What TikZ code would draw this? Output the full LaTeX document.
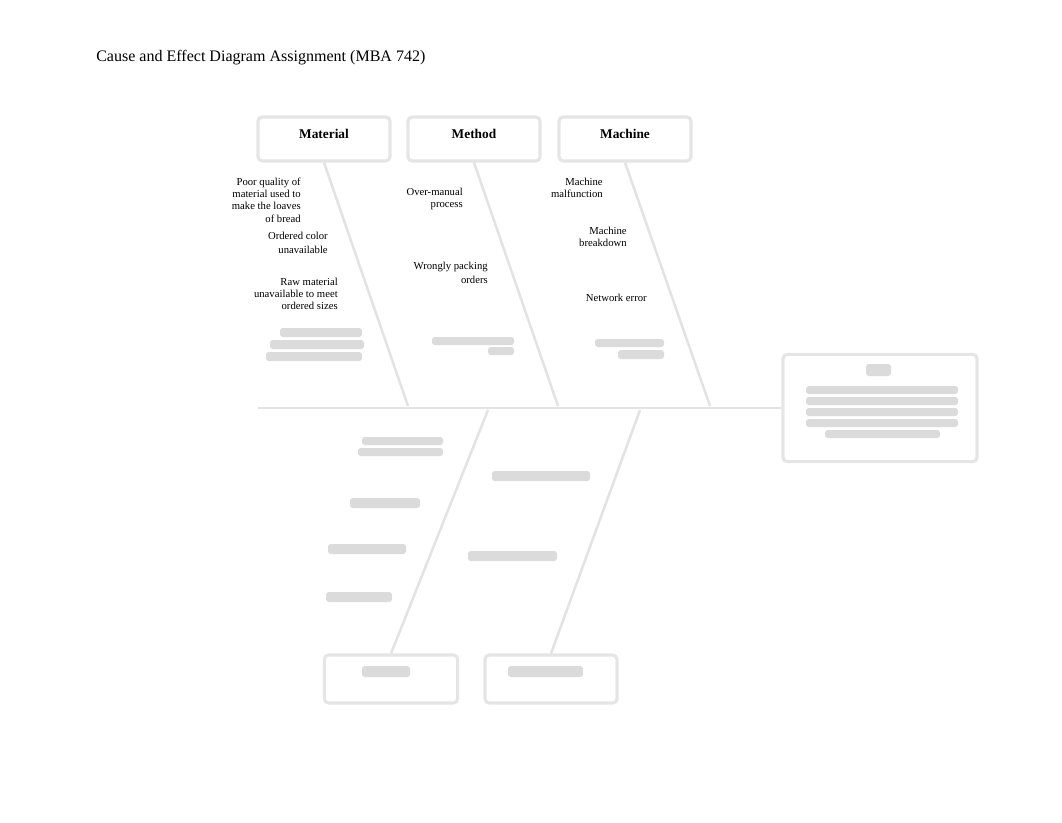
\documentclass[tikz,border=0pt]{standalone}
\usepackage{fontspec}
\setmainfont{Liberation Serif}
\usetikzlibrary{positioning}

\tikzset{
  catbox/.style={draw=black!10, line width=2.2pt, rounded corners=3pt, minimum width=3.3cm, minimum height=1.1cm, inner sep=0pt, font=\fontsize{9.5}{11}\selectfont\bfseries},
  bone/.style={draw=black!11, line width=1.8pt},
  cause/.style={font=\fontsize{7.6}{8.7}\selectfont, align=right, anchor=east, inner sep=0pt},
  smudge/.style={fill=black!14, rounded corners=2pt},
}

\begin{document}
\begin{tikzpicture}[x=0.025cm, y=-0.025cm]
		%%%%% START %%%%%
		\useasboundingbox (0, 0) rectangle (1062, 822);
		
		\node[anchor=west, inner sep=0pt, font=\fontsize{11.4}{13}\selectfont] (title) at (96, 58) {Cause and Effect Diagram Assignment (MBA 742)};
		
		% category boxes
		\node[catbox, text depth=7pt] (mat) at (324, 139) {Material};
		\node[catbox, text depth=7pt] (meth) at (474, 139) {Method};
		\node[catbox, text depth=7pt] (mach) at (625, 139) {Machine};
		\node[catbox, minimum width=3.33cm, minimum height=1.2cm] (catA) at (391, 679) {};
		\node[catbox, minimum width=3.3cm, minimum height=1.2cm] (catB) at (551, 679) {};
		\node[catbox, minimum width=4.85cm, minimum height=2.68cm] (effect) at (880, 408) {};
		
		% spine and bones
		\coordinate (tail) at (258, 408);
		\coordinate (matEnd) at (408, 406);
		\coordinate (methEnd) at (558, 406);
		\coordinate (machEnd) at (710, 406);
		\coordinate (aEnd) at (488, 410);
		\coordinate (bEnd) at (640, 410);
		\draw[bone] (tail) -- (effect.west);
		\draw[bone] (mat.south) -- (matEnd);
		\draw[bone] (meth.south) -- (methEnd);
		\draw[bone] (mach.south) -- (machEnd);
		\draw[bone] (catA.north) -- (aEnd);
		\draw[bone] (catB.north) -- (bEnd);
		
		% causes
		\node[cause] (c1) at (301, 200) {Poor quality of\\material used to\\make the loaves\\of bread};
		\node[cause, font=\fontsize{7.6}{9.9}\selectfont] (c2) at (328, 243) {Ordered color\\unavailable};
		\node[cause] (c3) at (338, 294) {Raw material\\unavailable to meet\\ordered sizes};
		\node[cause] (c4) at (463, 199) {Over-manual\\process};
		\node[cause, font=\fontsize{7.6}{9.9}\selectfont] (c5) at (488, 273) {Wrongly packing\\orders};
		\node[cause] (c6) at (603, 188) {Machine\\malfunction};
		\node[cause] (c7) at (627, 237) {Machine\\breakdown};
		\node[cause] (c8) at (647, 298) {Network error};
		
		% unreadable parts
		\fill[smudge] (280, 328) rectangle (362, 337);
		\fill[smudge] (270, 340) rectangle (364, 349);
		\fill[smudge] (266, 352) rectangle (362, 361);
		\fill[smudge] (432, 337) rectangle (514, 345);
		\fill[smudge] (488, 347) rectangle (514, 355);
		\fill[smudge] (595, 339) rectangle (664, 347);
		\fill[smudge] (618, 350) rectangle (664, 359);
		\fill[smudge] (866, 364) rectangle (891, 376);
		\fill[smudge] (806, 386) rectangle (958, 394);
		\fill[smudge] (806, 397) rectangle (958, 405);
		\fill[smudge] (806, 408) rectangle (958, 416);
		\fill[smudge] (806, 419) rectangle (958, 427);
		\fill[smudge] (825, 430) rectangle (940, 438);
		\fill[smudge] (362, 437) rectangle (443, 445);
		\fill[smudge] (358, 448) rectangle (443, 456);
		\fill[smudge] (350, 498) rectangle (420, 508);
		\fill[smudge] (328, 544) rectangle (406, 554);
		\fill[smudge] (326, 592) rectangle (392, 602);
		\fill[smudge] (492, 471) rectangle (590, 481);
		\fill[smudge] (468, 551) rectangle (557, 561);
		\fill[smudge] (362, 666) rectangle (410, 677);
		\fill[smudge] (508, 666) rectangle (583, 677);
		
		%%%%% END %%%%%
\end{tikzpicture}
\end{document}
